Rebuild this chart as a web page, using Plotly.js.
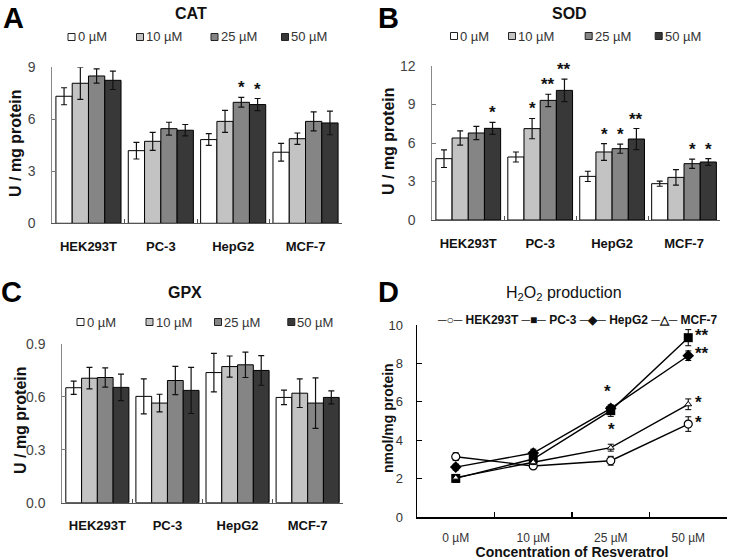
<!DOCTYPE html>
<html><head><meta charset="utf-8">
<script src="https://cdn.plot.ly/plotly-3.0.1.min.js"></script>
<style>html,body{margin:0;padding:0;background:#fff}</style>
</head><body><div id="chart" style="width:730px;height:560px"></div>
<script>
// ---------- data ----------
const cellLines = ['HEK293T', 'PC-3', 'HepG2', 'MCF-7'];
const concLabels = ['0 µM', '10 µM', '25 µM', '50 µM'];

// CAT (U / mg protein), per concentration across cell lines
const cat0 = [7.33, 4.19, 4.83, 4.10];
const cat10 = [8.08, 4.73, 5.88, 4.88];
const cat25 = [8.50, 5.46, 6.98, 5.88];
const cat50 = [8.25, 5.37, 6.85, 5.79];
const catErr0 = [0.49, 0.48, 0.34, 0.51];
const catErr10 = [0.93, 0.52, 0.63, 0.33];
const catErr25 = [0.41, 0.37, 0.28, 0.55];
const catErr50 = [0.53, 0.33, 0.35, 0.68];
const catStars0 = ['', '', '', ''];
const catStars10 = ['', '', '', ''];
const catStars25 = ['', '', '*', ''];
const catStars50 = ['', '', '*', ''];

// SOD
const sod0 = [4.78, 4.91, 3.40, 2.83];
const sod10 = [6.39, 7.12, 5.30, 3.32];
const sod25 = [6.78, 9.32, 5.56, 4.39];
const sod50 = [7.14, 10.10, 6.31, 4.52];
const sodErr0 = [0.69, 0.39, 0.40, 0.20];
const sodErr10 = [0.56, 0.79, 0.65, 0.61];
const sodErr25 = [0.51, 0.48, 0.36, 0.36];
const sodErr50 = [0.47, 0.87, 0.82, 0.27];
const sodStars0 = ['', '', '', ''];
const sodStars10 = ['', '*', '*', ''];
const sodStars25 = ['', '**', '*', '*'];
const sodStars50 = ['*', '**', '**', '*'];

// GPX
const gpx0 = [0.652, 0.603, 0.738, 0.597];
const gpx10 = [0.706, 0.565, 0.772, 0.621];
const gpx25 = [0.710, 0.693, 0.782, 0.565];
const gpx50 = [0.654, 0.637, 0.750, 0.597];
const gpxErr0 = [0.038, 0.099, 0.109, 0.041];
const gpxErr10 = [0.061, 0.050, 0.060, 0.081];
const gpxErr25 = [0.055, 0.080, 0.072, 0.143];
const gpxErr50 = [0.075, 0.131, 0.084, 0.037];

// H2O2 production (nmol/mg protein), per cell line across concentrations
const h2o2Hek = [3.14, 2.66, 2.93, 4.84];
const h2o2Pc3 = [2.01, 3.02, 5.54, 9.34];
const h2o2Hep = [2.60, 3.33, 5.66, 8.40];
const h2o2Mcf = [2.05, 2.85, 3.61, 5.87];
const h2o2HekErr = [0.20, 0.10, 0.23, 0.38];
const h2o2Pc3Err = [0.20, 0.15, 0.30, 0.42];
const h2o2HepErr = [0.15, 0.20, 0.15, 0.25];
const h2o2McfErr = [0.12, 0.12, 0.18, 0.28];
const h2o2HekStars = ['', '', '', '*'];
const h2o2Pc3Stars = ['', '', '*', '**'];
const h2o2HepStars = ['', '', '*', '**'];
const h2o2McfStars = ['', '', '', '*'];

// ---------- styling ----------
const W = 730, H = 560;
const FONT = 'Liberation Sans, Arial, sans-serif';
const barColors = ['#ffffff', '#c3c3c3', '#858585', '#383838'];
const px = x => x / W;
const py = y => 1 - y / H;
const BARGAP = 0.1;
const barW = (1 - BARGAP) / 4;

function barTraces(series, errs, xa, ya) {
  return series.map((vals, j) => ({
    type: 'bar', x: cellLines, y: vals, name: concLabels[j],
    xaxis: xa, yaxis: ya,
    marker: { color: barColors[j], line: { color: '#000', width: 1 } },
    error_y: { type: 'data', array: errs[j], visible: true, color: '#111', thickness: 1.2, width: 3 },
    showlegend: false, hoverinfo: 'y'
  }));
}

function barStars(series, errs, stars, xref, yref) {
  const out = [];
  series.forEach((vals, j) => {
    vals.forEach((v, i) => {
      if (!stars[j][i]) return;
      out.push({
        xref: xref, yref: yref, x: i + (j - 1.5) * barW, y: v + errs[j][i],
        text: stars[j][i], showarrow: false, xanchor: 'center', yanchor: 'bottom',
        yshift: -2, font: { family: FONT, size: 17, color: '#111', weight: 'bold' }
      });
    });
  });
  return out;
}

const legendShapes = [];
function legendAnnots(yPix, boxCenters) {
  const out = [];
  boxCenters.forEach((cx, j) => {
    legendShapes.push({
      type: 'rect', xref: 'paper', yref: 'paper',
      x0: px(cx - 3.5), x1: px(cx + 3.5), y0: py(yPix + 3.5), y1: py(yPix - 3.5),
      fillcolor: barColors[j], line: { color: '#222', width: 1 }
    });
    out.push({
      xref: 'paper', yref: 'paper', x: px(cx + 4), y: py(yPix), xanchor: 'left', yanchor: 'middle',
      text: concLabels[j], showarrow: false, font: { family: FONT, size: 13, color: '#333' }
    });
  });
  return out;
}

const traces = [];
traces.push(...barTraces([cat0, cat10, cat25, cat50], [catErr0, catErr10, catErr25, catErr50], 'x', 'y'));
traces.push(...barTraces([sod0, sod10, sod25, sod50], [sodErr0, sodErr10, sodErr25, sodErr50], 'x2', 'y2'));
traces.push(...barTraces([gpx0, gpx10, gpx25, gpx50], [gpxErr0, gpxErr10, gpxErr25, gpxErr50], 'x3', 'y3'));

const lineSeries = [
  { name: 'HEK293T', y: h2o2Hek, e: h2o2HekErr, s: h2o2HekStars, marker: { symbol: 'circle', size: 8, color: '#fff', line: { color: '#000', width: 1.2 } } },
  { name: 'PC-3', y: h2o2Pc3, e: h2o2Pc3Err, s: h2o2Pc3Stars, marker: { symbol: 'square', size: 9, color: '#000' } },
  { name: 'HepG2', y: h2o2Hep, e: h2o2HepErr, s: h2o2HepStars, marker: { symbol: 'diamond', size: 9, color: '#000' } },
  { name: 'MCF-7', y: h2o2Mcf, e: h2o2McfErr, s: h2o2McfStars, marker: { symbol: 'triangle-up', size: 6, color: '#fff', line: { color: '#000', width: 1 } } }
];
lineSeries.forEach(s => traces.push({
  type: 'scatter', mode: 'lines+markers', x: concLabels, y: s.y, name: s.name,
  xaxis: 'x4', yaxis: 'y4', line: { color: '#000', width: 1.4 }, marker: s.marker,
  error_y: { type: 'data', array: s.e, visible: true, color: '#000', thickness: 1, width: 3 },
  showlegend: false, cliponaxis: false
}));

// stars for panel D
const dStarAnn = [];
lineSeries.forEach((s, k) => {
  s.s.forEach((txt, i) => {
    if (!txt) return;
    const a = { xref: 'x4', yref: 'y4', x: i, showarrow: false, text: txt,
      font: { family: FONT, size: 17, color: '#111', weight: 'bold' } };
    if (i === 3) { a.y = s.y[i] + 0.1; a.xanchor = 'left'; a.yanchor = 'middle'; a.xshift = 5; }
    else if (s.name === 'PC-3') { a.y = s.y[i] - s.e[i]; a.xanchor = 'center'; a.yanchor = 'top'; a.xshift = 1; a.yshift = -2; }
    else { a.y = s.y[i] + s.e[i]; a.xanchor = 'center'; a.yanchor = 'bottom'; a.xshift = -3; a.yshift = 2; }
    dStarAnn.push(a);
  });
});

function barX(domain) {
  return { domain: domain, type: 'category', range: [-0.5, 3.5], tickson: 'boundaries', ticks: 'inside', ticklen: 4,
    tickcolor: '#555', showline: true, linecolor: '#555', linewidth: 1, showgrid: false, zeroline: false,
    tickfont: { family: FONT, size: 13, color: '#111', weight: 'bold' }, ticklabelstandoff: 11, fixedrange: true };
}
function barY(domain, range, dtick, fmt) {
  return { domain: domain, range: range, dtick: dtick, tick0: 0, tickformat: fmt, ticks: 'inside', ticklen: 4,
    tickcolor: '#777', showline: true, linecolor: '#888', linewidth: 1, showgrid: false, zeroline: false,
    tickfont: { family: FONT, size: 14, color: '#444' }, ticklabelstandoff: 13 };
}

const titleFont = { family: FONT, size: 16, color: '#111', weight: 'bold' };
const letterFont = { family: FONT, size: 29, color: '#000', weight: 'bold' };
const yTitleFont = { family: FONT, size: 16, color: '#111', weight: 'bold' };
const textAnn = (x, y, t, f, ang) => ({ xref: 'paper', yref: 'paper', x: px(x), y: py(y), text: t, showarrow: false, xanchor: 'center', yanchor: 'middle', font: f, textangle: ang || 0 });

const annotations = [
  textAnn(13, 18, 'A', letterFont), textAnn(388, 18, 'B', letterFont),
  textAnn(12, 292, 'C', letterFont), textAnn(388, 292, 'D', letterFont),
  textAnn(191, 13, 'CAT', titleFont), textAnn(569, 13, 'SOD', titleFont),
  textAnn(185, 292, 'GPX', titleFont),
  textAnn(564, 293, 'H<sub>2</sub>O<sub>2</sub> production', { family: FONT, size: 16, color: '#111' }),
  textAnn(15, 143, 'U / mg protein', yTitleFont, -90),
  textAnn(388, 141, 'U / mg protein', yTitleFont, -90),
  textAnn(20, 420, 'U / mg protein', yTitleFont, -90),
  textAnn(388, 418, 'nmol/mg protein', { family: FONT, size: 14, color: '#111', weight: 'bold' }, -90),
  ...legendAnnots(37, [71.5, 140, 214.5, 285]),
  ...legendAnnots(36, [454, 512, 588.7, 658.7]),
  ...legendAnnots(322, [80.5, 149.5, 218, 291.3]),
  { xref: 'paper', yref: 'paper', x: px(435), y: py(320), xanchor: 'left', yanchor: 'middle', showarrow: false,
    text: lineSeries.map((s, k) => ['─○─', '─■─', '─◆─', '─△─'][k] + ' ' + s.name).join(' '),
    font: { family: FONT, size: 12, color: '#111', weight: 'bold' } },
  ...barStars([cat0, cat10, cat25, cat50], [catErr0, catErr10, catErr25, catErr50], [catStars0, catStars10, catStars25, catStars50], 'x', 'y'),
  ...barStars([sod0, sod10, sod25, sod50], [sodErr0, sodErr10, sodErr25, sodErr50], [sodStars0, sodStars10, sodStars25, sodStars50], 'x2', 'y2'),
  ...dStarAnn
];

const layout = {
  width: W, height: H, margin: { l: 0, r: 0, t: 0, b: 0 },
  paper_bgcolor: '#fff', plot_bgcolor: '#fff', showlegend: false,
  barmode: 'group', bargap: BARGAP, bargroupgap: 0,
  xaxis: Object.assign(barX([px(52.3), px(341.7)]), { anchor: 'y' }),
  yaxis: Object.assign(barY([py(223.3), py(67.3)], [0, 9], 3, 'd'), { anchor: 'x' }),
  xaxis2: Object.assign(barX([px(432.3), px(720)]), { anchor: 'y2' }),
  yaxis2: Object.assign(barY([py(220), py(66)], [0, 12], 3, 'd'), { anchor: 'x2' }),
  xaxis3: Object.assign(barX([px(62.3), px(342.7)]), { anchor: 'y3' }),
  yaxis3: Object.assign(barY([py(502.7), py(344)], [0, 0.9], 0.3, '.1f'), { anchor: 'x3' }),
  xaxis4: { domain: [px(417), px(727)], anchor: 'y4', type: 'category', range: [-0.5, 3.5], tickson: 'boundaries',
    ticks: 'inside', ticklen: 5, tickcolor: '#000', tickwidth: 1.2, showline: true, linecolor: '#000', linewidth: 1.5,
    showgrid: false, zeroline: false, tickfont: { family: FONT, size: 12, color: '#333' }, ticklabelstandoff: 9,
    title: { text: 'Concentration of Resveratrol', font: { family: FONT, size: 14, color: '#111', weight: 'bold' }, standoff: 1 } },
  yaxis4: { domain: [py(517), py(325)], anchor: 'x4', range: [0, 10], dtick: 2, tick0: 0, ticks: 'inside', ticklen: 5,
    tickcolor: '#000', tickwidth: 1.2, showline: true, linecolor: '#000', linewidth: 1.5, showgrid: false, zeroline: false,
    tickfont: { family: FONT, size: 13, color: '#333' }, ticklabelstandoff: 10 },
  shapes: legendShapes,
  annotations: annotations
};

Plotly.newPlot('chart', traces, layout, { displayModeBar: false, staticPlot: true });
</script></body></html>
